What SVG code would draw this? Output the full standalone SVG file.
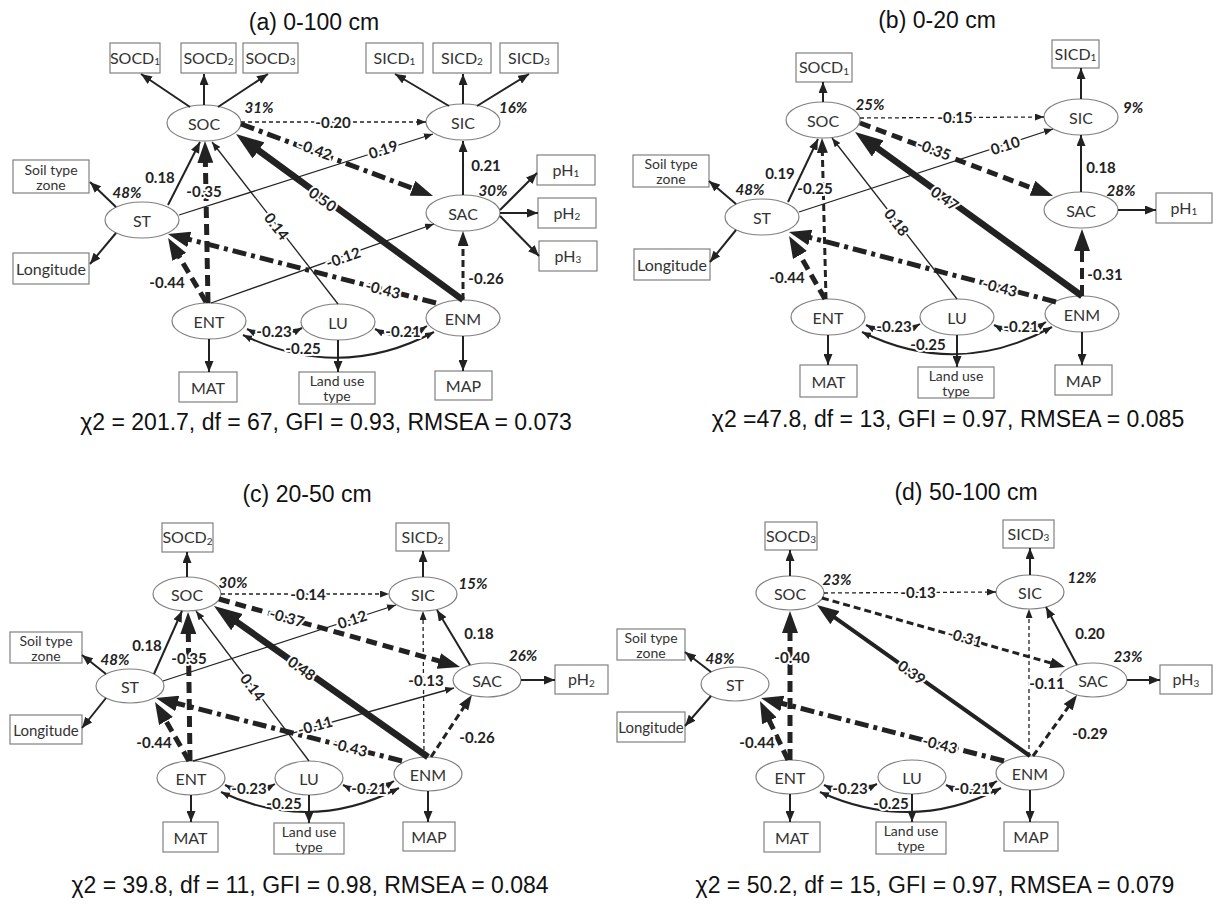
<svg xmlns="http://www.w3.org/2000/svg" width="1213" height="907" viewBox="0 0 1213 907">
<style>
.bx{fill:#fff;stroke:#808080;stroke-width:1.2}
.el{fill:#fff;stroke:#808080;stroke-width:1.2}
.t{font-family:Lato,"Open Sans",sans-serif;font-size:16px;fill:#333;text-anchor:middle;dominant-baseline:central}
.t2{font-size:14px}
.t3{font-size:15px}
.sub{font-size:10px}
.lb{font-family:Lato,"Open Sans",sans-serif;font-size:15px;font-weight:700;fill:#222;text-anchor:middle;dominant-baseline:central;stroke:#fff;stroke-width:4px;paint-order:stroke;stroke-linejoin:round}
.pc{font-family:Lato,"Open Sans",sans-serif;font-size:15px;font-weight:700;font-style:italic;fill:#222;text-anchor:middle;dominant-baseline:central}
.ti{font-family:"Liberation Sans",Arial,sans-serif;font-size:23px;fill:#111;text-anchor:middle}
.c{fill:none;stroke:#222}
.w1{stroke-width:1.3}.w2{stroke-width:2}.w3{stroke-width:3}.w4{stroke-width:4}.w5{stroke-width:5}.w6{stroke-width:6.5}
.d1{stroke-dasharray:4 3}.d2{stroke-dasharray:7 4}.d3{stroke-dasharray:11 6}.dd{stroke-dasharray:14 5 4 5}
.ms{marker-end:url(#s)}.mm{marker-end:url(#m)}.mM{marker-end:url(#M)}.mL{marker-end:url(#L)}.mX{marker-end:url(#X)}
.bi{marker-start:url(#s);marker-end:url(#s)}
</style>
<defs>
<marker id="s" viewBox="0 0 9 7" refX="9" refY="3.5" markerWidth="9" markerHeight="7" orient="auto-start-reverse" markerUnits="userSpaceOnUse"><path d="M0,0L9,3.5L0,7z" fill="#222"/></marker>
<marker id="m" viewBox="0 0 11 9" refX="11" refY="4.5" markerWidth="11" markerHeight="9" orient="auto-start-reverse" markerUnits="userSpaceOnUse"><path d="M0,0L11,4.5L0,9z" fill="#222"/></marker>
<marker id="M" viewBox="0 0 15 11" refX="7" refY="5.5" markerWidth="15" markerHeight="11" orient="auto" markerUnits="userSpaceOnUse"><path d="M0,0L15,5.5L0,11z" fill="#222"/></marker>
<marker id="L" viewBox="0 0 22 16" refX="10" refY="8" markerWidth="22" markerHeight="16" orient="auto" markerUnits="userSpaceOnUse"><path d="M0,0L22,8L0,16z" fill="#222"/></marker>
<marker id="X" viewBox="0 0 28 20" refX="12" refY="10" markerWidth="28" markerHeight="20" orient="auto" markerUnits="userSpaceOnUse"><path d="M0,0L28,10L0,20z" fill="#222"/></marker>
</defs>
<rect width="1213" height="907" fill="#fff"/>

<!-- ================= PANEL A ================= -->
<g id="panel-a">
<text class="ti" x="314" y="30">(a) 0-100 cm</text>
<text class="ti" x="326" y="430">χ2 = 201.7, df = 67, GFI = 0.93, RMSEA = 0.073</text>
<g id="a-nodes">
<g id="a-SOCD1"><rect class="bx" x="110" y="43" width="50" height="30"/><text class="t" x="135" y="57">SOCD<tspan class="sub" dy="4">1</tspan></text></g>
<g id="a-SOCD2"><rect class="bx" x="181" y="43" width="55" height="30"/><text class="t" x="208.5" y="57">SOCD<tspan class="sub" dy="4">2</tspan></text></g>
<g id="a-SOCD3"><rect class="bx" x="243" y="43" width="55" height="30"/><text class="t" x="270.5" y="57">SOCD<tspan class="sub" dy="4">3</tspan></text></g>
<g id="a-SICD1"><rect class="bx" x="366" y="43" width="57" height="30"/><text class="t" x="394.5" y="57">SICD<tspan class="sub" dy="4">1</tspan></text></g>
<g id="a-SICD2"><rect class="bx" x="433" y="43" width="58" height="30"/><text class="t" x="462" y="57">SICD<tspan class="sub" dy="4">2</tspan></text></g>
<g id="a-SICD3"><rect class="bx" x="500" y="43" width="58" height="30"/><text class="t" x="529" y="57">SICD<tspan class="sub" dy="4">3</tspan></text></g>
<g id="a-soiltype"><rect class="bx" x="13" y="160" width="76" height="33"/><text class="t t2" x="51" y="169">Soil type</text><text class="t t2" x="51" y="184">zone</text></g>
<g id="a-longitude"><rect class="bx" x="13" y="253" width="76" height="31"/><text class="t" x="51" y="268.5">Longitude</text></g>
<g id="a-pH1"><rect class="bx" x="537" y="155" width="58" height="30"/><text class="t" x="566" y="169">pH<tspan class="sub" dy="4">1</tspan></text></g>
<g id="a-pH2"><rect class="bx" x="538" y="198" width="58" height="30"/><text class="t" x="567" y="212">pH<tspan class="sub" dy="4">2</tspan></text></g>
<g id="a-pH3"><rect class="bx" x="539" y="241" width="58" height="30"/><text class="t" x="568" y="255">pH<tspan class="sub" dy="4">3</tspan></text></g>
<g id="a-MAT"><rect class="bx" x="179" y="372" width="58" height="30"/><text class="t" x="208" y="387">MAT</text></g>
<g id="a-landuse"><rect class="bx" x="299" y="372" width="76" height="32"/><text class="t t2" x="337" y="380.5">Land use</text><text class="t t2" x="337" y="395.5">type</text></g>
<g id="a-MAP"><rect class="bx" x="435" y="371" width="57" height="29"/><text class="t" x="463.5" y="385.5">MAP</text></g>
<g id="a-SOC"><ellipse class="el" cx="204" cy="123" rx="37" ry="18"/><text class="t" x="204" y="123">SOC</text></g>
<g id="a-SIC"><ellipse class="el" cx="463" cy="122" rx="37" ry="18"/><text class="t" x="463" y="122">SIC</text></g>
<g id="a-SAC"><ellipse class="el" cx="463" cy="213" rx="37" ry="18"/><text class="t" x="463" y="213">SAC</text></g>
<g id="a-ST"><ellipse class="el" cx="142" cy="220" rx="37" ry="18"/><text class="t" x="142" y="220">ST</text></g>
<g id="a-ENT"><ellipse class="el" cx="209" cy="321" rx="37" ry="18"/><text class="t" x="209" y="321">ENT</text></g>
<g id="a-LU"><ellipse class="el" cx="338" cy="322" rx="37" ry="18"/><text class="t" x="338" y="322">LU</text></g>
<g id="a-ENM"><ellipse class="el" cx="463" cy="318" rx="37" ry="18"/><text class="t" x="463" y="318">ENM</text></g>
</g>
<g id="a-connectors">
<path class="c w2 mm" d="M190,107L141,74"/>
<path class="c w2 mm" d="M204,105L204,74"/>
<path class="c w2 mm" d="M218,107L268,74"/>
<path class="c w2 mm" d="M449,106L395,74"/>
<path class="c w2 mm" d="M463,104L463,74"/>
<path class="c w2 mm" d="M477,106L529,74"/>
<path class="c w1 d1 ms" d="M241,122L426,122"/>
<path class="c w5 dd mL" d="M241,124L421.8,191.8"/>
<path class="c w6 mX" d="M463,300L248.9,143.4"/>
<path class="c w1 ms" d="M179,215L433,134"/>
<path class="c w2 mm" d="M463,195L463,141"/>
<path class="c w2 mm" d="M500,210L537,173"/>
<path class="c w2 mm" d="M500,213L538,213"/>
<path class="c w2 mm" d="M500,216L539,256"/>
<path class="c w2 mm" d="M168,205L200,142"/>
<path class="c w5 d3 mL" d="M208,303L205.2,153"/>
<path class="c w1 ms" d="M338,304L212,142"/>
<path class="c w1 ms" d="M211,303L434,224"/>
<path class="c w5 dd mL" d="M436,303L179.6,237"/>
<path class="c w5 d3 mL" d="M206,302L174.2,248.3"/>
<path class="c w3 d2 mM" d="M463,300L463,239"/>
<path class="c w2 mm" d="M116,207L90,182"/>
<path class="c w2 mm" d="M116,233L90,264"/>
<path class="c w2 mm" d="M209,339L209,372"/>
<path class="c w2 mm" d="M338,340L338,372"/>
<path class="c w2 mm" d="M463,336L463,371"/>
<path class="c w2 bi" d="M247,329Q274,343 302,328"/>
<path class="c w2 bi" d="M375,329Q401,343 427,326"/>
<path class="c w2 bi" d="M243,335Q340,382 434,332"/>
<text class="lb" x="333" y="122">-0.20</text>
<text class="lb" x="315" y="149" transform="rotate(20 315 149)">-0.42</text>
<text class="lb" x="383" y="149" transform="rotate(-17.7 383 149)">0.19</text>
<text class="lb" x="486" y="165">0.21</text>
<text class="lb" x="323" y="199" transform="rotate(36.2 323 199)">0.50</text>
<text class="lb" x="160" y="177">0.18</text>
<text class="lb" x="204" y="191">-0.35</text>
<text class="lb" x="277" y="226" transform="rotate(52 277 226)">0.14</text>
<text class="lb" x="343" y="257" transform="rotate(-19.5 343 257)">-0.12</text>
<text class="lb" x="383" y="289" transform="rotate(14.4 383 289)">-0.43</text>
<text class="lb" x="167" y="282">-0.44</text>
<text class="lb" x="486" y="278">-0.26</text>
<text class="lb" x="274" y="331">-0.23</text>
<text class="lb" x="403" y="331">-0.21</text>
<text class="lb" x="303" y="348">-0.25</text>
<text class="pc" x="259" y="107">31%</text>
<text class="pc" x="513" y="107">16%</text>
<text class="pc" x="493" y="190">30%</text>
<text class="pc" x="127" y="192">48%</text>
</g>
</g>

<!-- ================= PANEL B ================= -->
<g id="panel-b">
<text class="ti" x="937" y="28">(b) 0-20 cm</text>
<text class="ti" x="948" y="427">χ2 =47.8, df = 13, GFI = 0.97, RMSEA = 0.085</text>
<g id="b-nodes">
<g id="b-SOCD1"><rect class="bx" x="796" y="53" width="56" height="29"/><text class="t" x="824" y="66.5">SOCD<tspan class="sub" dy="4">1</tspan></text></g>
<g id="b-SICD1"><rect class="bx" x="1052" y="40" width="47" height="28"/><text class="t" x="1075.5" y="53">SICD<tspan class="sub" dy="4">1</tspan></text></g>
<g id="b-soiltype"><rect class="bx" x="633" y="155" width="76" height="32"/><text class="t t2" x="671" y="163.5">Soil type</text><text class="t t2" x="671" y="178.5">zone</text></g>
<g id="b-longitude"><rect class="bx" x="634" y="249" width="76" height="31"/><text class="t" x="672" y="264.5">Longitude</text></g>
<g id="b-pH1"><rect class="bx" x="1156" y="193" width="56" height="30"/><text class="t" x="1184" y="207">pH<tspan class="sub" dy="4">1</tspan></text></g>
<g id="b-MAT"><rect class="bx" x="800" y="365" width="57" height="32"/><text class="t" x="828.5" y="381">MAT</text></g>
<g id="b-landuse"><rect class="bx" x="918" y="367" width="76" height="31"/><text class="t t2" x="956" y="375">Land use</text><text class="t t2" x="956" y="390">type</text></g>
<g id="b-MAP"><rect class="bx" x="1055" y="365" width="57" height="30"/><text class="t" x="1083.5" y="380">MAP</text></g>
<g id="b-SOC"><ellipse class="el" cx="823" cy="120" rx="37" ry="18"/><text class="t" x="823" y="120">SOC</text></g>
<g id="b-SIC"><ellipse class="el" cx="1081" cy="117" rx="37" ry="18"/><text class="t" x="1081" y="117">SIC</text></g>
<g id="b-SAC"><ellipse class="el" cx="1081" cy="210" rx="37" ry="18"/><text class="t" x="1081" y="210">SAC</text></g>
<g id="b-ST"><ellipse class="el" cx="762" cy="217" rx="37" ry="18"/><text class="t" x="762" y="217">ST</text></g>
<g id="b-ENT"><ellipse class="el" cx="828" cy="317" rx="37" ry="18"/><text class="t" x="828" y="317">ENT</text></g>
<g id="b-LU"><ellipse class="el" cx="957" cy="317" rx="37" ry="18"/><text class="t" x="957" y="317">LU</text></g>
<g id="b-ENM"><ellipse class="el" cx="1082" cy="314" rx="37" ry="18"/><text class="t" x="1082" y="314">ENM</text></g>
</g>
<g id="b-connectors">
<path class="c w2 mm" d="M823,102L823,82"/>
<path class="c w2 mm" d="M1081,99L1081,68"/>
<path class="c w1 d1 ms" d="M860,118L1044,117"/>
<path class="c w5 d3 mL" d="M860,123L1041.8,191.8"/>
<path class="c w1 ms" d="M799,212L1053,129"/>
<path class="c w2 mm" d="M1081,192L1081,135"/>
<path class="c w2 mm" d="M1118,210L1156,210"/>
<path class="c w6 mX" d="M1082,296L868,141.4"/>
<path class="c w2 mm" d="M788,202L818,139"/>
<path class="c w3 d2 mM" d="M826,299L822.2,146"/>
<path class="c w1 ms" d="M957,299L832,138"/>
<path class="c w5 dd mL" d="M1056,302L800.6,235"/>
<path class="c w5 d3 mL" d="M825,299L795,246.4"/>
<path class="c w4 d3 mL" d="M1082,296L1082,241"/>
<path class="c w2 mm" d="M736,204L709,181"/>
<path class="c w2 mm" d="M736,230L710,262"/>
<path class="c w2 mm" d="M828,335L828,365"/>
<path class="c w2 mm" d="M957,335L957,367"/>
<path class="c w2 mm" d="M1082,332L1082,365"/>
<path class="c w2 bi" d="M866,325Q893,339 920,324"/>
<path class="c w2 bi" d="M994,325Q1020,339 1046,322"/>
<path class="c w2 bi" d="M862,332Q958,379 1052,327"/>
<text class="lb" x="955" y="117">-0.15</text>
<text class="lb" x="934" y="149" transform="rotate(20.7 934 149)">-0.35</text>
<text class="lb" x="1005" y="145" transform="rotate(-17.8 1005 145)">0.10</text>
<text class="lb" x="1101" y="167">0.18</text>
<text class="lb" x="945" y="198" transform="rotate(35.8 945 198)">0.47</text>
<text class="lb" x="780" y="173">0.19</text>
<text class="lb" x="815" y="188">-0.25</text>
<text class="lb" x="897" y="222" transform="rotate(52.2 897 222)">0.18</text>
<text class="lb" x="787" y="277">-0.44</text>
<text class="lb" x="1000" y="287" transform="rotate(14.7 1000 287)">-0.43</text>
<text class="lb" x="1105" y="274">-0.31</text>
<text class="lb" x="894" y="326">-0.23</text>
<text class="lb" x="1021" y="326">-0.21</text>
<text class="lb" x="928" y="344">-0.25</text>
<text class="pc" x="870" y="104">25%</text>
<text class="pc" x="1133" y="107">9%</text>
<text class="pc" x="1121" y="190">28%</text>
<text class="pc" x="750" y="189">48%</text>
</g>
</g>

<!-- ================= PANEL C ================= -->
<g id="panel-c">
<text class="ti" x="307" y="502">(c) 20-50 cm</text>
<text class="ti" x="310" y="893">χ2 = 39.8, df = 11, GFI = 0.98, RMSEA = 0.084</text>
<g id="c-nodes">
<g id="c-SOCD2"><rect class="bx" x="162" y="523" width="51" height="29"/><text class="t" x="187.5" y="536.5">SOCD<tspan class="sub" dy="4">2</tspan></text></g>
<g id="c-SICD2"><rect class="bx" x="396" y="523" width="53" height="28"/><text class="t" x="422.5" y="536">SICD<tspan class="sub" dy="4">2</tspan></text></g>
<g id="c-soiltype"><rect class="bx" x="10" y="632" width="72" height="31"/><text class="t t2" x="46" y="640">Soil type</text><text class="t t2" x="46" y="655">zone</text></g>
<g id="c-longitude"><rect class="bx" x="10" y="715" width="72" height="29"/><text class="t t3" x="46" y="729.5">Longitude</text></g>
<g id="c-pH2"><rect class="bx" x="555" y="665" width="53" height="29"/><text class="t" x="581.5" y="678.5">pH<tspan class="sub" dy="4">2</tspan></text></g>
<g id="c-MAT"><rect class="bx" x="163" y="822" width="55" height="30"/><text class="t" x="190.5" y="837">MAT</text></g>
<g id="c-landuse"><rect class="bx" x="274" y="823" width="70" height="31"/><text class="t t2" x="309" y="831">Land use</text><text class="t t2" x="309" y="846">type</text></g>
<g id="c-MAP"><rect class="bx" x="403" y="822" width="52" height="29"/><text class="t" x="429" y="836.5">MAP</text></g>
<g id="c-SOC"><ellipse class="el" cx="187" cy="594" rx="34" ry="17"/><text class="t" x="187" y="594">SOC</text></g>
<g id="c-SIC"><ellipse class="el" cx="423" cy="594" rx="34" ry="17"/><text class="t" x="423" y="594">SIC</text></g>
<g id="c-SAC"><ellipse class="el" cx="487" cy="680" rx="34" ry="17"/><text class="t" x="487" y="680">SAC</text></g>
<g id="c-ST"><ellipse class="el" cx="130" cy="686" rx="34" ry="17"/><text class="t" x="130" y="686">ST</text></g>
<g id="c-ENT"><ellipse class="el" cx="191" cy="778" rx="34" ry="17"/><text class="t" x="191" y="778">ENT</text></g>
<g id="c-LU"><ellipse class="el" cx="309" cy="778" rx="34" ry="17"/><text class="t" x="309" y="778">LU</text></g>
<g id="c-ENM"><ellipse class="el" cx="428" cy="774" rx="34" ry="17"/><text class="t" x="428" y="774">ENM</text></g>
</g>
<g id="c-connectors">
<path class="c w2 mm" d="M187,577L187,552"/>
<path class="c w2 mm" d="M423,577L423,551"/>
<path class="c w1 d1 ms" d="M221,594L389,594"/>
<path class="c w5 d3 mL" d="M219,599L448.5,663.7"/>
<path class="c w1 ms" d="M163,681L396,605"/>
<path class="c w2 mm" d="M470,665L437,610"/>
<path class="c w1 d1 ms" d="M424,757L423,611"/>
<path class="c w2 mm" d="M521,680L555,680"/>
<path class="c w2 mm" d="M154,674L182,611"/>
<path class="c w5 d3 mL" d="M190,761L188.2,624"/>
<path class="c w1 ms" d="M309,761L196,611"/>
<path class="c w1 ms" d="M193,761L454,688"/>
<path class="c w5 dd mL" d="M402,761L167.6,701"/>
<path class="c w5 d3 mL" d="M189,761L161,712.4"/>
<path class="c w6 mX" d="M428,757L227.1,615.2"/>
<path class="c w3 d2 mM" d="M431,757L467.5,701.6"/>
<path class="c w2 mm" d="M106,674L82,655"/>
<path class="c w2 mm" d="M106,698L82,728"/>
<path class="c w2 mm" d="M191,795L191,822"/>
<path class="c w2 mm" d="M309,795L309,823"/>
<path class="c w2 mm" d="M428,791L428,822"/>
<path class="c w2 bi" d="M225,785Q250,798 275,784"/>
<path class="c w2 bi" d="M343,785Q368,798 394,781"/>
<path class="c w2 bi" d="M221,792Q310,834 399,788"/>
<text class="lb" x="308" y="594">-0.14</text>
<text class="lb" x="287" y="617" transform="rotate(15.8 287 617)">-0.37</text>
<text class="lb" x="352" y="619" transform="rotate(-18 352 619)">0.12</text>
<text class="lb" x="479" y="633">0.18</text>
<text class="lb" x="426" y="680">-0.13</text>
<text class="lb" x="302" y="668" transform="rotate(35.2 302 668)">0.48</text>
<text class="lb" x="253" y="687" transform="rotate(53 253 687)">0.14</text>
<text class="lb" x="315" y="725" transform="rotate(-15.6 315 725)">-0.11</text>
<text class="lb" x="477" y="737">-0.26</text>
<text class="lb" x="350" y="747" transform="rotate(14.4 350 747)">-0.43</text>
<text class="lb" x="154" y="742">-0.44</text>
<text class="lb" x="147" y="645">0.18</text>
<text class="lb" x="189" y="658">-0.35</text>
<text class="lb" x="249" y="788">-0.23</text>
<text class="lb" x="369" y="788">-0.21</text>
<text class="lb" x="284" y="803">-0.25</text>
<text class="pc" x="233" y="582">30%</text>
<text class="pc" x="473" y="583">15%</text>
<text class="pc" x="523" y="655">26%</text>
<text class="pc" x="115" y="659">48%</text>
</g>
</g>

<!-- ================= PANEL D ================= -->
<g id="panel-d">
<text class="ti" x="966" y="500">(d) 50-100 cm</text>
<text class="ti" x="935" y="893">χ2 = 50.2, df = 15, GFI = 0.97, RMSEA = 0.079</text>
<g id="d-nodes">
<g id="d-SOCD3"><rect class="bx" x="765" y="522" width="52" height="28"/><text class="t" x="791" y="535">SOCD<tspan class="sub" dy="4">3</tspan></text></g>
<g id="d-SICD3"><rect class="bx" x="1003" y="520" width="51" height="28"/><text class="t" x="1028.5" y="533">SICD<tspan class="sub" dy="4">3</tspan></text></g>
<g id="d-soiltype"><rect class="bx" x="617" y="629" width="68" height="31"/><text class="t t2" x="651" y="637">Soil type</text><text class="t t2" x="651" y="652">zone</text></g>
<g id="d-longitude"><rect class="bx" x="617" y="712" width="68" height="30"/><text class="t t3" x="651" y="727">Longitude</text></g>
<g id="d-pH3"><rect class="bx" x="1160" y="665" width="52" height="29"/><text class="t" x="1186" y="678.5">pH<tspan class="sub" dy="4">3</tspan></text></g>
<g id="d-MAT"><rect class="bx" x="764" y="822" width="56" height="30"/><text class="t" x="792" y="837">MAT</text></g>
<g id="d-landuse"><rect class="bx" x="876" y="822" width="70" height="32"/><text class="t t2" x="911" y="830.5">Land use</text><text class="t t2" x="911" y="845.5">type</text></g>
<g id="d-MAP"><rect class="bx" x="1004" y="822" width="54" height="29"/><text class="t" x="1031" y="836.5">MAP</text></g>
<g id="d-SOC"><ellipse class="el" cx="790" cy="593" rx="34" ry="17"/><text class="t" x="790" y="593">SOC</text></g>
<g id="d-SIC"><ellipse class="el" cx="1030" cy="592" rx="34" ry="17"/><text class="t" x="1030" y="592">SIC</text></g>
<g id="d-SAC"><ellipse class="el" cx="1093" cy="680" rx="34" ry="17"/><text class="t" x="1093" y="680">SAC</text></g>
<g id="d-ST"><ellipse class="el" cx="735" cy="684" rx="34" ry="17"/><text class="t" x="735" y="684">ST</text></g>
<g id="d-ENT"><ellipse class="el" cx="790" cy="777" rx="34" ry="17"/><text class="t" x="790" y="777">ENT</text></g>
<g id="d-LU"><ellipse class="el" cx="912" cy="777" rx="34" ry="17"/><text class="t" x="912" y="777">LU</text></g>
<g id="d-ENM"><ellipse class="el" cx="1030" cy="773" rx="34" ry="17"/><text class="t" x="1030" y="773">ENM</text></g>
</g>
<g id="d-connectors">
<path class="c w2 mm" d="M790,576L790,550"/>
<path class="c w2 mm" d="M1030,575L1030,548"/>
<path class="c w1 d1 ms" d="M824,593L996,592"/>
<path class="c w3 d2 mM" d="M822,598L1057.3,664.8"/>
<path class="c w2 mm" d="M1077,665L1046,607"/>
<path class="c w1 d1 ms" d="M1029,756L1029,609"/>
<path class="c w2 mm" d="M1127,680L1160,680"/>
<path class="c w5 d3 mL" d="M790,760L790,623"/>
<path class="c w4 mL" d="M1030,756L826.8,611.9"/>
<path class="c w5 dd mL" d="M1004,761L772.6,701"/>
<path class="c w5 d3 mL" d="M788,760L765.1,711.8"/>
<path class="c w3 d2 mM" d="M1033,756L1072.3,701.5"/>
<path class="c w2 mm" d="M711,672L685,652"/>
<path class="c w2 mm" d="M711,696L685,726"/>
<path class="c w2 mm" d="M790,794L790,822"/>
<path class="c w2 mm" d="M912,794L912,822"/>
<path class="c w2 mm" d="M1030,790L1030,822"/>
<path class="c w2 bi" d="M824,785Q850,798 877,784"/>
<path class="c w2 bi" d="M946,785Q971,798 997,781"/>
<path class="c w2 bi" d="M820,792Q912,834 1001,788"/>
<text class="lb" x="918" y="592">-0.13</text>
<text class="lb" x="965" y="637" transform="rotate(15.9 965 637)">-0.31</text>
<text class="lb" x="1090" y="633">0.20</text>
<text class="lb" x="1047" y="683">-0.11</text>
<text class="lb" x="1090" y="733">-0.29</text>
<text class="lb" x="912" y="672" transform="rotate(35.3 912 672)">0.39</text>
<text class="lb" x="940" y="744" transform="rotate(14.5 940 744)">-0.43</text>
<text class="lb" x="757" y="742">-0.44</text>
<text class="lb" x="792" y="657">-0.40</text>
<text class="lb" x="850" y="788">-0.23</text>
<text class="lb" x="972" y="788">-0.21</text>
<text class="lb" x="891" y="803">-0.25</text>
<text class="pc" x="837" y="579">23%</text>
<text class="pc" x="1082" y="577">12%</text>
<text class="pc" x="1128" y="656">23%</text>
<text class="pc" x="720" y="658">48%</text>
</g>
</g>
</svg>
